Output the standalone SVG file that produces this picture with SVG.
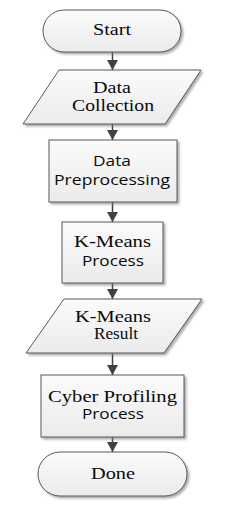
<svg xmlns="http://www.w3.org/2000/svg" width="249" height="506" viewBox="0 0 249 506">
<defs>
<linearGradient id="g" x1="0" y1="0" x2="0" y2="1">
<stop offset="0" stop-color="#fbfbfb"/>
<stop offset="1" stop-color="#ebebeb"/>
</linearGradient>
<filter id="sh" x="-10%" y="-10%" width="130%" height="130%">
<feDropShadow dx="2" dy="2" stdDeviation="0.8" flood-color="#777" flood-opacity="0.6"/>
</filter>
<marker id="ah" markerUnits="userSpaceOnUse" markerWidth="12" markerHeight="12" viewBox="0 0 12 12" refX="10" refY="6" orient="auto">
<path d="M0,0.5 L10,6 L0,11.5 Z" fill="#404040"/>
</marker>
</defs>
<style>
.shape{fill:url(#g);stroke:#595959;stroke-width:1;filter:url(#sh)}
.serif{font-family:"Liberation Serif","Times New Roman",serif;font-size:16px;fill:#0a0a0a;text-anchor:middle}
.sans{font-family:"Open Sans","Liberation Sans",sans-serif;font-size:14.5px;fill:#0a0a0a;text-anchor:middle}
.conn{stroke:#404040;stroke-width:1.5;fill:none;marker-end:url(#ah)}
</style>
<rect width="249" height="506" fill="#fff"/>
<g id="connectors">
<line class="conn" x1="112.5" y1="52" x2="112.5" y2="70"/>
<line class="conn" x1="112.5" y1="124" x2="112.5" y2="140"/>
<line class="conn" x1="112.5" y1="202" x2="112.5" y2="222"/>
<line class="conn" x1="112.5" y1="283" x2="112.5" y2="299"/>
<line class="conn" x1="112.5" y1="353" x2="112.5" y2="375"/>
<line class="conn" x1="112.5" y1="437" x2="112.5" y2="452"/>
</g>
<g id="start">
<rect class="shape" x="43" y="10" width="138" height="42" rx="21"/>
<text class="serif" x="112" y="35" textLength="38" lengthAdjust="spacingAndGlyphs">Start</text>
</g>
<g id="data-collection">
<polygon class="shape" points="59,70 201,70 165,124 23,124"/>
<text class="serif" x="112" y="93" textLength="38" lengthAdjust="spacingAndGlyphs">Data</text>
<text class="serif" x="113" y="111" textLength="82" lengthAdjust="spacingAndGlyphs">Collection</text>
</g>
<g id="data-preprocessing">
<rect class="shape" x="49" y="140" width="128" height="62"/>
<text class="sans" x="112" y="166" textLength="38" lengthAdjust="spacingAndGlyphs">Data</text>
<text class="sans" x="112" y="185" textLength="116" lengthAdjust="spacingAndGlyphs">Preprocessing</text>
</g>
<g id="kmeans-process">
<rect class="shape" x="62" y="222" width="101" height="61"/>
<text class="serif" x="112.5" y="247" textLength="77" lengthAdjust="spacingAndGlyphs">K-Means</text>
<text class="sans" x="113" y="266" textLength="62" lengthAdjust="spacingAndGlyphs">Process</text>
</g>
<g id="kmeans-result">
<polygon class="shape" points="64,299 202,299 164,353 26,353"/>
<text class="serif" x="113" y="322" textLength="76" lengthAdjust="spacingAndGlyphs">K-Means</text>
<text class="serif" x="116" y="339" textLength="44" lengthAdjust="spacingAndGlyphs">Result</text>
</g>
<g id="cyber-profiling">
<rect class="shape" x="41" y="375" width="143" height="62"/>
<text class="serif" x="112.5" y="402" textLength="129" lengthAdjust="spacingAndGlyphs">Cyber Profiling</text>
<text class="sans" x="113" y="419" textLength="62" lengthAdjust="spacingAndGlyphs">Process</text>
</g>
<g id="done">
<rect class="shape" x="38" y="452" width="149" height="44" rx="22"/>
<text class="serif" x="113" y="479" textLength="44" lengthAdjust="spacingAndGlyphs">Done</text>
</g>
</svg>
